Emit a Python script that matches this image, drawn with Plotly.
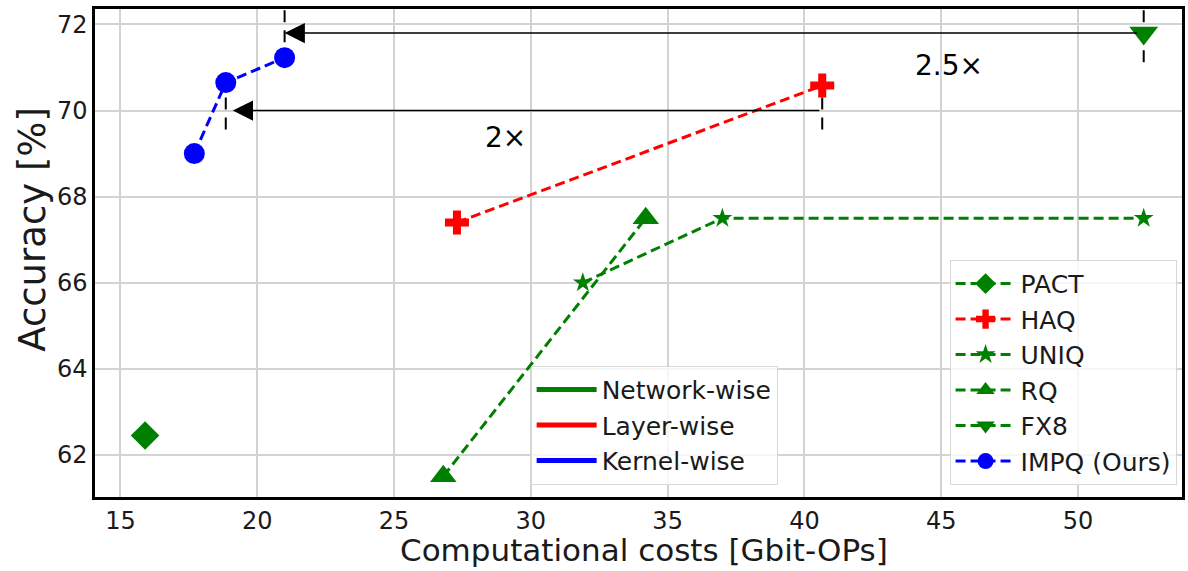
import plotly.graph_objects as go

# Accuracy vs. computational cost of quantization methods
pact_x = [15.9]
pact_y = [62.45]
haq_x = [27.3, 40.65]
haq_y = [67.4, 70.58]
uniq_x = [31.9, 37.0, 52.4]
uniq_y = [66.0, 67.5, 67.5]
rq_x = [26.8, 34.2]
rq_y = [61.5, 67.5]
fx8_x = [52.4]
fx8_y = [71.8]
impq_x = [17.7, 18.85, 21.0]
impq_y = [69.0, 70.65, 71.23]

granularity = ["Network-wise", "Layer-wise", "Kernel-wise"]
granularity_colors = ["#008000", "#ff0000", "#0000ff"]

x_ticks = [15, 20, 25, 30, 35, 40, 45, 50]
y_ticks = [62, 64, 66, 68, 70, 72]
x_range = [14.07, 53.8]
y_range = [61.02, 72.36]

GREEN, RED, BLUE = "#008000", "#ff0000", "#0000ff"
FONT = "DejaVu Sans"
TXT = "#1a1a1a"
DASH = "10px,5px"

fig = go.Figure()

series = [
    ("PACT", pact_x, pact_y, GREEN, "diamond", 22),
    ("HAQ", haq_x, haq_y, RED, "cross", 20),
    ("UNIQ", uniq_x, uniq_y, GREEN, "star", 15),
    ("RQ", rq_x, rq_y, GREEN, "triangle-up", 23),
    ("FX8", fx8_x, fx8_y, GREEN, "triangle-down", 25),
    ("IMPQ (Ours)", impq_x, impq_y, BLUE, "circle", 21),
]
for name, xs, ys, col, sym, size in series:
    fig.add_trace(go.Scatter(
        x=xs, y=ys, name=name, mode="lines+markers",
        line=dict(color=col, width=3, dash=DASH),
        marker=dict(color=col, symbol=sym, size=size, line=dict(width=0)),
        legend="legend",
    ))

# Granularity key (line swatches only)
for name, col in zip(granularity, granularity_colors):
    fig.add_trace(go.Scatter(
        x=[None], y=[None], name=name, mode="lines",
        line=dict(color=col, width=5), legend="legend2",
    ))

# Dashed vertical guides at the compared points
def vguide(x, y0, y1):
    fig.add_shape(type="line", xref="x", yref="y", x0=x, x1=x, y0=y0, y1=y1,
                  line=dict(color="black", width=2, dash="12px,8px"), layer="below")

vguide(impq_x[2], 71.12, y_range[1])
vguide(fx8_x[0], 71.12, y_range[1])
vguide(impq_x[1], 69.56, 70.6)
vguide(haq_x[1], 69.56, 70.6)

# Cost-reduction arrows
arrow_common = dict(xref="x", yref="y", axref="x", ayref="y", text="",
                    showarrow=True, arrowhead=2, arrowsize=2.7, arrowwidth=1.5,
                    arrowcolor="black")
fig.add_annotation(x=impq_x[2], y=fx8_y[0], ax=fx8_x[0] - 0.18, ay=fx8_y[0],
                   standoff=0, **arrow_common)
fig.add_annotation(x=impq_x[1], y=70.0, ax=haq_x[1] - 0.05, ay=70.0,
                   standoff=7, **arrow_common)

fig.add_annotation(x=45.28, y=71.05, text="2.5×", showarrow=False,
                   font=dict(family=FONT, size=28, color="black"))
fig.add_annotation(x=29.08, y=69.37, text="2×", showarrow=False,
                   font=dict(family=FONT, size=28, color="black"))

# Axis titles
fig.add_annotation(xref="paper", yref="paper", x=0.5046, y=-0.1086,
                   xanchor="center", yanchor="middle",
                   text="Computational costs [Gbit-OPs]", showarrow=False,
                   font=dict(family=FONT, size=31, color=TXT))
fig.add_annotation(xref="paper", yref="paper", x=-0.0578, y=0.548,
                   xanchor="center", yanchor="middle",
                   text="Accuracy [%]", textangle=-90, showarrow=False,
                   font=dict(family=FONT, size=37, color=TXT))

axis_common = dict(showline=True, mirror=True, linecolor="black", linewidth=2.5,
                   showgrid=True, gridcolor="#d3d3d3", gridwidth=1.5,
                   zeroline=False, ticks="",
                   tickfont=dict(family=FONT, size=24, color=TXT))

fig.update_xaxes(range=x_range, tickvals=x_ticks, **axis_common)
fig.update_yaxes(range=y_range, tickvals=y_ticks, **axis_common)

legend_common = dict(bgcolor="rgba(255,255,255,0.8)", bordercolor="#d8d8d8",
                     borderwidth=1, font=dict(family=FONT, size=25, color=TXT),
                     itemwidth=60, tracegroupgap=0)
fig.update_layout(
    width=1188, height=571,
    margin=dict(l=95, r=3, t=9, b=74),
    plot_bgcolor="white", paper_bgcolor="white",
    legend=dict(x=0.995, xanchor="right", y=0.025, yanchor="bottom", **legend_common),
    legend2=dict(x=0.628, xanchor="right", y=0.025, yanchor="bottom", **legend_common),
)

fig.write_html("out.html")
